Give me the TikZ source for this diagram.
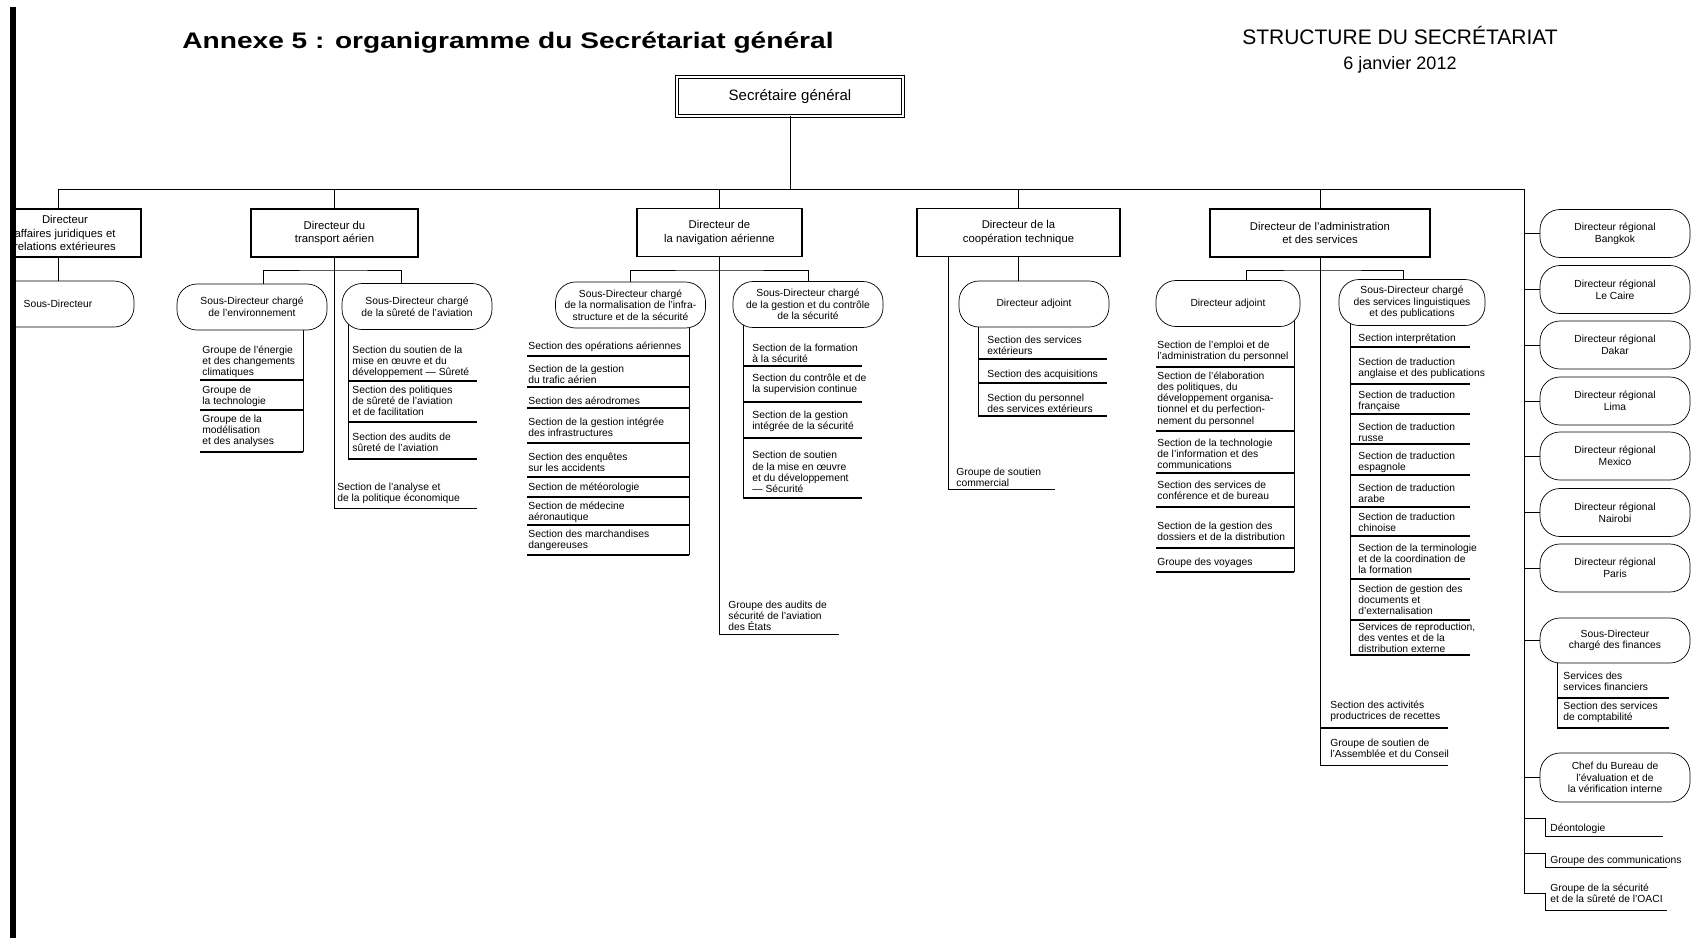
\documentclass[tikz,border=0pt]{standalone}
\usepackage{fontspec}
\setmainfont{Liberation Sans}
\usepackage{graphicx}
\usetikzlibrary{positioning,backgrounds}

\begin{document}
\begin{tikzpicture}[x=1pt, y=-1pt, line width=0.8pt,
  dirbox/.style={draw, line width=1.2pt, minimum height=48pt, align=center,
    font=\fontsize{11.3}{13.5}\selectfont},
  subdir/.style={draw, line width=0.7pt, fill=white, rounded corners=20pt,
    minimum width=150pt, minimum height=46pt, inner sep=2pt, align=center,
    font=\fontsize{10.3}{11.6}\selectfont},
  item/.style={anchor=west, align=left, inner sep=0pt,
    font=\fontsize{10.3}{11.2}\selectfont},
  sep/.style={line width=1.1pt}]
  \useasboundingbox (0,0) rectangle (1699,938);

  % titles
  \node (titre) at (508,43) {\scalebox{1.25}[1]{\fontsize{22.5}{26}\selectfont\bfseries Annexe 5 : organigramme du Secrétariat général}};
  \node (struct) at (1400,35) {\fontsize{21}{24}\selectfont STRUCTURE DU SECRÉTARIAT};
  \node (date) at (1400,65) {\fontsize{18}{20}\selectfont 6 janvier 2012};

  \begin{scope}
  \clip (16,0) rectangle (1699,938);
  % top node
  \node[draw, double, double distance=2pt, line width=0.9pt, minimum width=226pt,
    minimum height=39pt, font=\fontsize{15}{17}\selectfont] (sg) at (790,96.5) {Secrétaire général};
  \coordinate (bar) at (0,189);
  \coordinate (reg) at (1524,189);

  % 5 directors
  \node[dirbox, minimum width=152pt] (dja) at (65,233) {Directeur\\affaires juridiques et\\relations extérieures};
  \node[dirbox, minimum width=167pt] (dta) at (334.5,233) {Directeur du\\transport aérien};
  \node[dirbox, minimum width=165pt] (dna) at (719.5,232.5) {Directeur de\\la navigation aérienne};
  \node[dirbox, minimum width=203pt] (dct) at (1018.5,232.5) {Directeur de la\\coopération technique};
  \node[dirbox, minimum width=220pt] (das) at (1320,233) {Directeur de l'administration\\et des services};

  \draw (sg.south) -- (sg.south |- bar);
  \draw ([xshift=-7pt]dja.north |- bar) -- (reg);
  \draw ([xshift=-7pt]dja.north) -- ([xshift=-7pt]dja.north |- bar);
  \foreach \d in {dta,dna,dct,das}
    \draw (\d.north) -- (\d.north |- bar);

  % affaires juridiques
  \node[subdir, minimum width=152pt] (sdj) at (58,304) {Sous-Directeur};
  \draw (dja.south -| sdj.north) -- (sdj.north);

  % transport aerien
  \node[subdir] (sde) at (252,307) {Sous-Directeur chargé\\de l'environnement};
  \node[subdir] (sds) at (417,306.5) {Sous-Directeur chargé\\de la sûreté de l'aviation};
  \draw ([xshift=11pt]sde.north) |- (dta.south |- 0,270) -| ([xshift=-16pt]sds.north);
  \draw (dta.south) |- (477,508);
  \node[item] (eco) at (337,493) {Section de l'analyse et\\de la politique économique};
  \begin{scope}[on background layer]
    \draw (sde.center -| 303,0) -- (303,452);
    \draw (sds.center -| 348,0) -- (348,459);
  \end{scope}
  \foreach \y in {380,410,452} \draw[sep] (200,\y) -- (303,\y);
  \foreach \y in {381,422,459} \draw[sep] (348,\y) -- (477,\y);
  \foreach \y/\txt [count=\i] in {362/{Groupe de l'énergie\\et des changements\\climatiques},
      396/{Groupe de\\la technologie}, 431/{Groupe de la\\modélisation\\et des analyses}}
    \node[item] (env\i) at (202,\y) {\txt};
  \foreach \y/\txt [count=\i] in {362/{Section du soutien de la\\mise en œuvre et du\\développement — Sûreté},
      401/{Section des politiques\\de sûreté de l'aviation\\et de facilitation},
      442.5/{Section des audits de\\sûreté de l'aviation}}
    \node[item] (sur\i) at (352,\y) {\txt};

  % navigation aerienne
  \node[subdir] (sdn) at (630.5,305) {Sous-Directeur chargé\\de la normalisation de l'infra-\\structure et de la sécurité};
  \node[subdir] (sdg) at (808,304.5) {Sous-Directeur chargé\\de la gestion et du contrôle\\de la sécurité};
  \draw (sdn.north) |- (dna.south |- 0,270) -| (sdg.north);
  \draw (dna.south) |- (839,634);
  \node[item] (audit) at (728,616) {Groupe des audits de\\sécurité de l'aviation\\des États};
  \begin{scope}[on background layer]
    \draw (sdn.center -| 689,0) -- (689,555);
    \draw (sdg.center -| 743,0) -- (743,498);
  \end{scope}
  \foreach \y in {356,387,408,443,477,497,525,555} \draw[sep] (527,\y) -- (689,\y);
  \foreach \y in {366,402,438,498} \draw[sep] (743,\y) -- (862,\y);
  \foreach \y/\txt [count=\i] in {347/{Section des opérations aériennes},
      374/{Section de la gestion\\du trafic aérien}, 401/{Section des aérodromes},
      427/{Section de la gestion intégrée\\des infrastructures},
      462/{Section des enquêtes\\sur les accidents}, 488/{Section de météorologie},
      512/{Section de médecine\\aéronautique}, 540/{Section des marchandises\\dangereuses}}
    \node[item] (nor\i) at (528,\y) {\txt};
  \foreach \y/\txt [count=\i] in {353/{Section de la formation\\à la sécurité},
      384/{Section du contrôle et de\\la supervision continue},
      421/{Section de la gestion\\intégrée de la sécurité},
      472/{Section de soutien\\de la mise en œuvre\\et du développement\\— Sécurité}}
    \node[item] (ges\i) at (752,\y) {\txt};

  % cooperation technique
  \node[subdir] (cadj) at (1034,304) {Directeur adjoint};
  \draw (dct.south) -- (dct.south |- cadj.north);
  \draw (dct.south -| 948,0) |- (1055,489);
  \node[item] (com) at (956,477) {Groupe de soutien\\commercial};
  \begin{scope}[on background layer]
    \draw (cadj.center -| 978,0) -- (978,416);
  \end{scope}
  \foreach \y in {359,383,416} \draw[sep] (978,\y) -- (1107,\y);
  \foreach \y/\txt [count=\i] in {345/{Section des services\\extérieurs},
      375/{Section des acquisitions},
      403/{Section du personnel\\des services extérieurs}}
    \node[item] (coo\i) at (987,\y) {\txt};

  % administration et services
  \node[subdir, minimum width=144pt] (aadj) at (1228,303.5) {Directeur adjoint};
  \node[subdir, minimum width=146pt] (sdl) at (1412,302.5) {Sous-Directeur chargé\\des services linguistiques\\et des publications};
  \draw ([xshift=18pt]aadj.north) |- (das.south |- 0,270) -| ([xshift=-9pt]sdl.north);
  \draw (das.south) |- (1448,765);
  \draw[sep] (1320,728) -- (1448,728);
  \node[item] (rec) at (1330,711) {Section des activités\\productrices de recettes};
  \node[item] (ass) at (1330,748) {Groupe de soutien de\\l'Assemblée et du Conseil};
  \begin{scope}[on background layer]
    \draw (aadj.center -| 1294,0) -- (1294,572);
    \draw (sdl.center -| 1350,0) -- (1350,655);
  \end{scope}
  \foreach \y in {367,431,473,507,548,572} \draw[sep] (1156,\y) -- (1294,\y);
  \foreach \y in {347,384,414,444,475,507,536,579,620,655} \draw[sep] (1350,\y) -- (1470,\y);
  \foreach \y/\txt [count=\i] in {351/{Section de l'emploi et de\\l'administration du personnel},
      399/{Section de l'élaboration\\des politiques, du\\développement organisa-\\tionnel et du perfection-\\nement du personnel},
      454/{Section de la technologie\\de l'information et des\\communications},
      490/{Section des services de\\conférence et de bureau},
      531/{Section de la gestion des\\dossiers et de la distribution},
      563/{Groupe des voyages}}
    \node[item] (adm\i) at (1157,\y) {\txt};
  \foreach \y/\txt [count=\i] in {339/{Section interprétation},
      368/{Section de traduction\\anglaise et des publications},
      401/{Section de traduction\\française}, 432/{Section de traduction\\russe},
      462/{Section de traduction\\espagnole}, 493/{Section de traduction\\arabe},
      522/{Section de traduction\\chinoise},
      559/{Section de la terminologie\\et de la coordination de\\la formation},
      600/{Section de gestion des\\documents et\\d'externalisation},
      638/{Services de reproduction,\\des ventes et de la\\distribution externe}}
    \node[item] (lin\i) at (1358,\y) {\txt};

  % regional offices
  \foreach \y/\ville [count=\i] in {233.5/Bangkok, 289.5/Le Caire, 345/Dakar, 401/Lima,
      456/Mexico, 512.5/Nairobi, 568/Paris} {
    \node[subdir, minimum height=48pt] (dr\i) at (1615,\y) {Directeur régional\\\ville};
    \draw (dr\i.west) -- (dr\i.west -| reg);
  }
  \node[subdir, minimum height=45pt] (sdf) at (1615,640.5) {Sous-Directeur\\chargé des finances};
  \draw (sdf.west) -- (sdf.west -| reg);
  \begin{scope}[on background layer]
    \draw (sdf.center -| 1557,0) -- (1557,728);
  \end{scope}
  \foreach \y in {698,728} \draw[sep] (1557,\y) -- (1669,\y);
  \node[item] (fin1) at (1563,681) {Services des\\services financiers};
  \node[item] (fin2) at (1563,712) {Section des services\\de comptabilité};
  \node[subdir, minimum height=49pt] (cbe) at (1615,777.5) {Chef du Bureau de\\l'évaluation et de\\la vérification interne};
  \draw (cbe.west) -- (cbe.west -| reg);
  \draw (reg) -- (1524,893) -| (1545,910) -- (1667,910);
  \draw (reg |- 0,818) -| (1545,836) -- (1663,836);
  \draw (reg |- 0,853) -| (1545,867) -- (1667,867);
  \node[item] (deo) at (1550,829) {Déontologie};
  \node[item] (gcom) at (1550,861) {Groupe des communications};
  \node[item] (oaci) at (1550,893) {Groupe de la sécurité\\et de la sûreté de l'OACI};
  \end{scope}

  \fill (10,7) rectangle (16,938);
\end{tikzpicture}
\end{document}
